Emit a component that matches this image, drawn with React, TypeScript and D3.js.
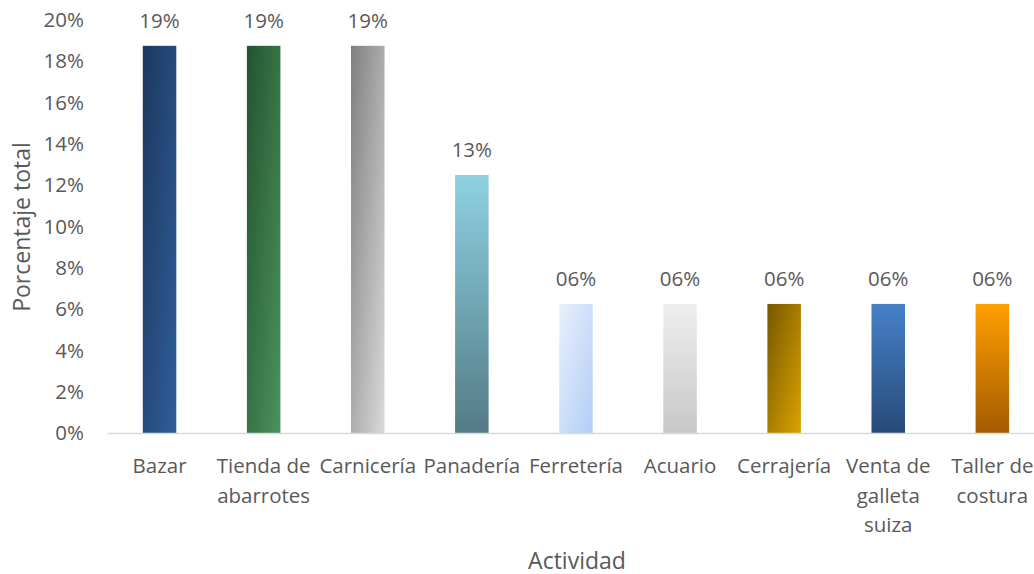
import React from "react";
import * as d3 from "d3";

const categories = [
  "Bazar",
  "Tienda de\nabarrotes",
  "Carnicería",
  "Panadería",
  "Ferretería",
  "Acuario",
  "Cerrajería",
  "Venta de\ngalleta\nsuiza",
  "Taller de\ncostura",
];
const values = [0.1875, 0.1875, 0.1875, 0.125, 0.0625, 0.0625, 0.0625, 0.0625, 0.0625];
const yTicks = [0, 0.02, 0.04, 0.06, 0.08, 0.1, 0.12, 0.14, 0.16, 0.18, 0.2];
// [start, end, direction]
const barGradients: [string, string, string][] = [
  ["#1d375e", "#2f5e9a", "diag"],
  ["#24532f", "#4a935c", "diag"],
  ["#7f7f7f", "#dadada", "diag"],
  ["#8ed1e2", "#547b86", "vert"],
  ["#e8f0fc", "#b2cef6", "diag"],
  ["#eeeeee", "#c8c8c8", "vert"],
  ["#765700", "#dba300", "diag"],
  ["#4681c9", "#284a78", "vert"],
  ["#ff9f00", "#a45b00", "vert"],
];

const W = 1034;
const H = 574;
const FONT = "'Open Sans', Lato, sans-serif";
const TXT = "#595959";
const FS = 20.5;
const TFS = 23;

export default function App() {
  const x = d3
    .scaleBand<string>()
    .domain(categories)
    .range([107.5, 107.5 + 9 * 104.1])
    .paddingInner(0.678)
    .paddingOuter(0.339);
  const y = d3.scaleLinear().domain([0, 0.2]).range([433, 20]);
  const fmt = (v: number) => {
    const p = Math.round(v * 100);
    return (p < 10 ? "0" + p : String(p)) + "%";
  };

  return (
    <svg
      width={W}
      height={H}
      style={{ position: "absolute", left: 0, top: 0, background: "#fff" }}
      fontFamily={FONT}
    >
      <defs>
        {barGradients.map(([a, b, dir], i) => (
          <linearGradient
            key={i}
            id={"g" + i}
            x1="0"
            y1="0"
            x2={dir === "diag" ? "1" : "0"}
            y2="1"
          >
            <stop offset="0" stopColor={a} />
            <stop offset="1" stopColor={b} />
          </linearGradient>
        ))}
      </defs>
      <rect width={W} height={H} fill="#fff" />
      {/* y tick labels */}
      {yTicks.map((t) => (
        <text
          key={t}
          x={84}
          y={y(t)}
          dy="0.35em"
          textAnchor="end"
          fontSize={FS}
          fill={TXT}
        >
          {Math.round(t * 100) + "%"}
        </text>
      ))}
      {/* bars */}
      {categories.map((c, i) => (
        <rect
          key={c}
          x={x(c)}
          y={y(values[i])}
          width={x.bandwidth()}
          height={y(0) - y(values[i])}
          fill={`url(#g${i})`}
        />
      ))}
      {/* axis line */}
      <line x1={107.5} x2={W} y1={y(0) + 0.5} y2={y(0) + 0.5} stroke="#d9d9d9" strokeWidth={1.5} />
      {/* data labels */}
      {categories.map((c, i) => (
        <text
          key={c}
          x={(x(c) as number) + x.bandwidth() / 2}
          y={y(values[i]) - 18}
          textAnchor="middle"
          fontSize={FS}
          fill={TXT}
        >
          {fmt(values[i])}
        </text>
      ))}
      {/* category labels */}
      {categories.map((c) => (
        <text
          key={c}
          x={(x(c) as number) + x.bandwidth() / 2}
          y={473}
          textAnchor="middle"
          fontSize={FS}
          fill={TXT}
        >
          {c.split("\n").map((l, j) => (
            <tspan key={j} x={(x(c) as number) + x.bandwidth() / 2} dy={j === 0 ? 0 : 29.5}>
              {l}
            </tspan>
          ))}
        </text>
      ))}
      {/* axis titles */}
      <text x={577} y={569} textAnchor="middle" fontSize={TFS} fill={TXT}>
        Actividad
      </text>
      <text
        transform={`translate(30,${227}) rotate(-90)`}
        textAnchor="middle"
        fontSize={TFS}
        fill={TXT}
      >
        Porcentaje total
      </text>
    </svg>
  );
}
